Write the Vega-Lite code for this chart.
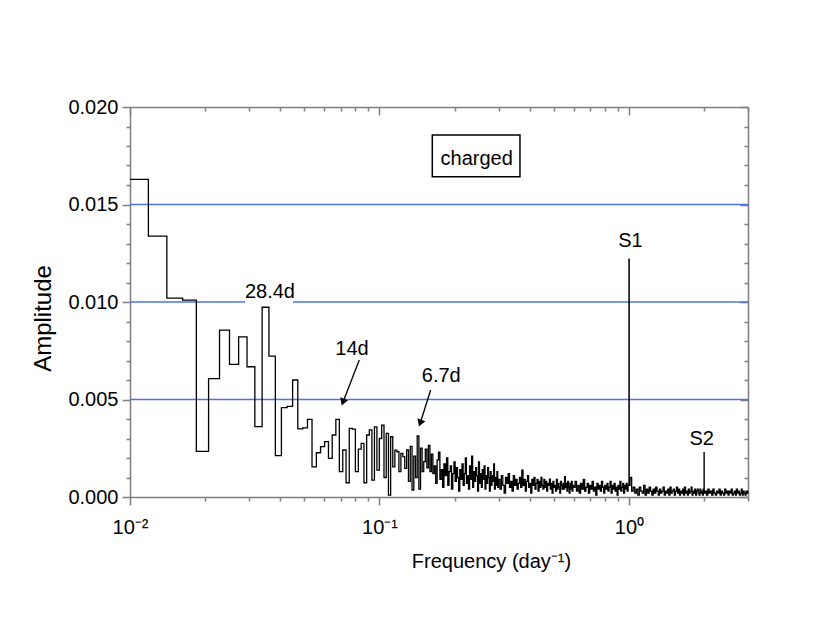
{
  "$schema": "https://vega.github.io/schema/vega-lite/v6.json",
  "autosize": "none",
  "width": 618,
  "height": 390,
  "padding": {"left": 130, "top": 107, "right": 82, "bottom": 126},
  "background": "white",
  "config": {
    "view": {"stroke": null},
    "axis": {
      "domainColor": "#7f7f7f", "tickColor": "#7f7f7f", "domainWidth": 1.5, "tickWidth": 1.5,
      "grid": false,
      "labelFont": "Liberation Sans, Arial, sans-serif", "labelFontSize": 20, "labelColor": "black",
      "titleFont": "Liberation Sans, Arial, sans-serif", "titleFontSize": 20, "titleFontWeight": "normal", "titleColor": "black"
    }
  },
  "datasets": {
    "spec": [
      {"f": 0.01, "a": 0.01629}, {"f": 0.01185, "a": 0.01338}, {"f": 0.01405, "a": 0.0102}, {"f": 0.01625, "a": 0.0101},
      {"f": 0.01845, "a": 0.00234}, {"f": 0.02065, "a": 0.00607}, {"f": 0.02285, "a": 0.00856}, {"f": 0.02505, "a": 0.0068},
      {"f": 0.02725, "a": 0.00821}, {"f": 0.02945, "a": 0.00668}, {"f": 0.03165, "a": 0.00361}, {"f": 0.03385, "a": 0.00973},
      {"f": 0.03605, "a": 0.00722}, {"f": 0.03825, "a": 0.00212}, {"f": 0.04045, "a": 0.00458}, {"f": 0.04265, "a": 0.00465},
      {"f": 0.04485, "a": 0.006}, {"f": 0.04705, "a": 0.00349}, {"f": 0.04925, "a": 0.00355}, {"f": 0.05145, "a": 0.00398},
      {"f": 0.05365, "a": 0.00155}, {"f": 0.05585, "a": 0.00227}, {"f": 0.05805, "a": 0.00258}, {"f": 0.06025, "a": 0.00284},
      {"f": 0.06245, "a": 0.00198}, {"f": 0.06465, "a": 0.00318}, {"f": 0.06685, "a": 0.00398}, {"f": 0.06905, "a": 0.0013},
      {"f": 0.07125, "a": 0.00241}, {"f": 0.07345, "a": 0.00073}, {"f": 0.07565, "a": 0.00352}, {"f": 0.07785, "a": 0.00348},
      {"f": 0.08005, "a": 0.0013}, {"f": 0.08225, "a": 0.00246}, {"f": 0.08445, "a": 0.00275}, {"f": 0.08665, "a": 0.00073},
      {"f": 0.08885, "a": 0.00318}, {"f": 0.09105, "a": 0.00344}, {"f": 0.09325, "a": 0.00087}, {"f": 0.09545, "a": 0.0036},
      {"f": 0.09765, "a": 0.00138}, {"f": 0.09985, "a": 0.003}, {"f": 0.10205, "a": 0.00369}, {"f": 0.10425, "a": 0.001},
      {"f": 0.10645, "a": 0.00326}, {"f": 0.10865, "a": 0.0001}, {"f": 0.11085, "a": 0.00309}, {"f": 0.11305, "a": 0.00155},
      {"f": 0.11525, "a": 0.0024}, {"f": 0.11745, "a": 0.00232}, {"f": 0.11965, "a": 0.0013}, {"f": 0.12185, "a": 0.00224},
      {"f": 0.12405, "a": 0.00207}, {"f": 0.12625, "a": 0.00147}, {"f": 0.12845, "a": 0.00241}, {"f": 0.13065, "a": 0.0008},
      {"f": 0.13285, "a": 0.0026}, {"f": 0.13505, "a": 0.00036}, {"f": 0.13725, "a": 0.0021}, {"f": 0.13945, "a": 0.001},
      {"f": 0.14165, "a": 0.00313}, {"f": 0.14385, "a": 0.0004}, {"f": 0.14605, "a": 0.0025}, {"f": 0.14825, "a": 0.0013},
      {"f": 0.15045, "a": 0.00181}, {"f": 0.15265, "a": 0.00245}, {"f": 0.15485, "a": 0.0015}, {"f": 0.15705, "a": 0.00265},
      {"f": 0.15925, "a": 0.0013},
      {"f": 0.16145, "a": 0.0022}, {"f": 0.16365, "a": 0.0012}, {"f": 0.16585, "a": 0.0016}, {"f": 0.16805, "a": 0.0007},
      {"f": 0.17025, "a": 0.0019}, {"f": 0.17245, "a": 0.0023}, {"f": 0.17465, "a": 0.0009}, {"f": 0.17685, "a": 0.0014},
      {"f": 0.17905, "a": 0.0005}, {"f": 0.18125, "a": 0.0017}, {"f": 0.18345, "a": 0.0011}, {"f": 0.18565, "a": 0.002},
      {"f": 0.18785, "a": 0.0006}, {"f": 0.19005, "a": 0.0013}, {"f": 0.19225, "a": 0.0016}, {"f": 0.19445, "a": 0.0004},
      {"f": 0.19665, "a": 0.0012}, {"f": 0.19885, "a": 0.0018}, {"f": 0.20105, "a": 0.0008}, {"f": 0.20325, "a": 0.0015},
      {"f": 0.20545, "a": 0.001}, {"f": 0.20765, "a": 0.0003}, {"f": 0.20985, "a": 0.0014}, {"f": 0.21205, "a": 0.0009},
      {"f": 0.21425, "a": 0.0017}, {"f": 0.21645, "a": 0.0006}, {"f": 0.21865, "a": 0.0012}, {"f": 0.22085, "a": 0.002},
      {"f": 0.22305, "a": 0.0007}, {"f": 0.22525, "a": 0.0011}, {"f": 0.22745, "a": 0.0004}, {"f": 0.22965, "a": 0.0016},
      {"f": 0.23185, "a": 0.0009}, {"f": 0.23405, "a": 0.0021}, {"f": 0.23625, "a": 0.0005}, {"f": 0.23845, "a": 0.0013},
      {"f": 0.24065, "a": 0.0008}, {"f": 0.24285, "a": 0.0015}, {"f": 0.24505, "a": 0.0011}, {"f": 0.24725, "a": 0.0003},
      {"f": 0.24945, "a": 0.0018}, {"f": 0.25165, "a": 0.0007}, {"f": 0.25385, "a": 0.0012}, {"f": 0.25605, "a": 0.0005},
      {"f": 0.25825, "a": 0.0014}, {"f": 0.26045, "a": 0.0009}, {"f": 0.26265, "a": 0.0016}, {"f": 0.26485, "a": 0.0004},
      {"f": 0.26705, "a": 0.0011}, {"f": 0.26925, "a": 0.0007}, {"f": 0.27145, "a": 0.0015}, {"f": 0.27365, "a": 0.001},
      {"f": 0.27585, "a": 0.0003}, {"f": 0.27805, "a": 0.0013}, {"f": 0.28025, "a": 0.0006}, {"f": 0.28245, "a": 0.0011},
      {"f": 0.28465, "a": 0.0008}, {"f": 0.28685, "a": 0.0017}, {"f": 0.28905, "a": 0.0004}, {"f": 0.29125, "a": 0.001},
      {"f": 0.29345, "a": 0.0006}, {"f": 0.29565, "a": 0.0013}, {"f": 0.29785, "a": 0.0005},
      {"f": 0.300, "a": 0.0009}, {"f": 0.304, "a": 0.0004}, {"f": 0.308, "a": 0.0011}, {"f": 0.312, "a": 0.0006},
      {"f": 0.316, "a": 0.0002}, {"f": 0.320, "a": 0.001}, {"f": 0.324, "a": 0.0007}, {"f": 0.328, "a": 0.0012},
      {"f": 0.332, "a": 0.0005}, {"f": 0.336, "a": 0.0008}, {"f": 0.340, "a": 0.0003}, {"f": 0.344, "a": 0.0011},
      {"f": 0.348, "a": 0.0006}, {"f": 0.352, "a": 0.0009}, {"f": 0.356, "a": 0.0004}, {"f": 0.360, "a": 0.0007},
      {"f": 0.364, "a": 0.001}, {"f": 0.368, "a": 0.0005}, {"f": 0.372, "a": 0.00138}, {"f": 0.376, "a": 0.0006},
      {"f": 0.380, "a": 0.0009}, {"f": 0.384, "a": 0.0003}, {"f": 0.388, "a": 0.0008}, {"f": 0.392, "a": 0.0011},
      {"f": 0.396, "a": 0.0005}, {"f": 0.400, "a": 0.0007}, {"f": 0.404, "a": 0.0002}, {"f": 0.408, "a": 0.0009},
      {"f": 0.412, "a": 0.0006}, {"f": 0.416, "a": 0.001}, {"f": 0.420, "a": 0.0004}, {"f": 0.424, "a": 0.0007},
      {"f": 0.428, "a": 0.0009}, {"f": 0.432, "a": 0.0003}, {"f": 0.436, "a": 0.0008}, {"f": 0.440, "a": 0.0005},
      {"f": 0.444, "a": 0.001}, {"f": 0.448, "a": 0.0006}, {"f": 0.452, "a": 0.0004}, {"f": 0.456, "a": 0.0009},
      {"f": 0.460, "a": 0.0005}, {"f": 0.464, "a": 0.0008}, {"f": 0.468, "a": 0.0003}, {"f": 0.472, "a": 0.0007},
      {"f": 0.476, "a": 0.0006}, {"f": 0.480, "a": 0.00092}, {"f": 0.484, "a": 0.0004}, {"f": 0.488, "a": 0.0007},
      {"f": 0.492, "a": 0.0002}, {"f": 0.496, "a": 0.0008}, {"f": 0.500, "a": 0.0005}, {"f": 0.504, "a": 0.0006},
      {"f": 0.508, "a": 0.0003}, {"f": 0.512, "a": 0.0009}, {"f": 0.516, "a": 0.0004}, {"f": 0.520, "a": 0.0007},
      {"f": 0.524, "a": 0.0005}, {"f": 0.528, "a": 0.0002}, {"f": 0.532, "a": 0.0008}, {"f": 0.536, "a": 0.0006},
      {"f": 0.540, "a": 0.0004}, {"f": 0.544, "a": 0.0007}, {"f": 0.548, "a": 0.0004}, {"f": 0.552, "a": 0.00104},
      {"f": 0.556, "a": 0.0005}, {"f": 0.560, "a": 0.0007}, {"f": 0.564, "a": 0.0003}, {"f": 0.568, "a": 0.0008},
      {"f": 0.572, "a": 0.0005}, {"f": 0.576, "a": 0.0002}, {"f": 0.580, "a": 0.0007}, {"f": 0.584, "a": 0.0004},
      {"f": 0.588, "a": 0.0008}, {"f": 0.592, "a": 0.0003}, {"f": 0.596, "a": 0.0006},
      {"f": 0.600, "a": 0.0005}, {"f": 0.608, "a": 0.0008}, {"f": 0.616, "a": 0.0003}, {"f": 0.624, "a": 0.0006},
      {"f": 0.632, "a": 0.0002}, {"f": 0.640, "a": 0.0007}, {"f": 0.648, "a": 0.0004}, {"f": 0.656, "a": 0.0009},
      {"f": 0.664, "a": 0.0003}, {"f": 0.672, "a": 0.0005}, {"f": 0.680, "a": 0.0007}, {"f": 0.688, "a": 0.0002},
      {"f": 0.696, "a": 0.0006}, {"f": 0.704, "a": 0.0004}, {"f": 0.712, "a": 0.0008}, {"f": 0.720, "a": 0.0003},
      {"f": 0.728, "a": 0.0005}, {"f": 0.736, "a": 0.0001}, {"f": 0.744, "a": 0.0007}, {"f": 0.752, "a": 0.0004},
      {"f": 0.760, "a": 0.0006}, {"f": 0.768, "a": 0.0003}, {"f": 0.776, "a": 0.0008}, {"f": 0.784, "a": 0.0005},
      {"f": 0.792, "a": 0.0002}, {"f": 0.800, "a": 0.0006}, {"f": 0.808, "a": 0.0004}, {"f": 0.816, "a": 0.0007},
      {"f": 0.824, "a": 0.0003}, {"f": 0.832, "a": 0.0005}, {"f": 0.840, "a": 0.0008}, {"f": 0.848, "a": 0.0002},
      {"f": 0.856, "a": 0.0006}, {"f": 0.864, "a": 0.0004}, {"f": 0.872, "a": 0.0007}, {"f": 0.880, "a": 0.0003},
      {"f": 0.888, "a": 0.0005}, {"f": 0.896, "a": 0.0001}, {"f": 0.904, "a": 0.0006}, {"f": 0.912, "a": 0.0004},
      {"f": 0.920, "a": 0.0008}, {"f": 0.928, "a": 0.0003}, {"f": 0.936, "a": 0.0005}, {"f": 0.944, "a": 0.0007},
      {"f": 0.952, "a": 0.0002}, {"f": 0.960, "a": 0.0006}, {"f": 0.968, "a": 0.0004}, {"f": 0.976, "a": 0.0007},
      {"f": 0.984, "a": 0.0003}, {"f": 0.992, "a": 0.0006},
      {"f": 1.0, "a": 0.0122}, {"f": 1.0022, "a": 0.0006},
      {"f": 1.010, "a": 0.001}, {"f": 1.025, "a": 0.0003}, {"f": 1.040, "a": 0.0005}, {"f": 1.055, "a": 0.0002},
      {"f": 1.070, "a": 0.0004}, {"f": 1.085, "a": 0.0001}, {"f": 1.100, "a": 0.0005}, {"f": 1.115, "a": 0.0003},
      {"f": 1.130, "a": 0.0002}, {"f": 1.145, "a": 0.0006}, {"f": 1.160, "a": 0.0001}, {"f": 1.175, "a": 0.0004},
      {"f": 1.190, "a": 0.0002}, {"f": 1.205, "a": 0.0005}, {"f": 1.220, "a": 0.0003}, {"f": 1.235, "a": 0.0001},
      {"f": 1.250, "a": 0.0004}, {"f": 1.265, "a": 0.0002}, {"f": 1.280, "a": 0.0005}, {"f": 1.295, "a": 0.0003},
      {"f": 1.310, "a": 0.0001}, {"f": 1.325, "a": 0.0004}, {"f": 1.340, "a": 0.0002}, {"f": 1.355, "a": 0.0003},
      {"f": 1.370, "a": 0.0005}, {"f": 1.385, "a": 0.0001}, {"f": 1.400, "a": 0.0003}, {"f": 1.415, "a": 0.0002},
      {"f": 1.430, "a": 0.0004}, {"f": 1.445, "a": 0.0001}, {"f": 1.460, "a": 0.0005}, {"f": 1.475, "a": 0.0002},
      {"f": 1.490, "a": 0.0003}, {"f": 1.505, "a": 0.0004}, {"f": 1.520, "a": 0.0001}, {"f": 1.535, "a": 0.0003},
      {"f": 1.550, "a": 0.0005}, {"f": 1.565, "a": 0.0002}, {"f": 1.580, "a": 0.0004}, {"f": 1.595, "a": 0.0001},
      {"f": 1.610, "a": 0.0003}, {"f": 1.625, "a": 0.0002}, {"f": 1.640, "a": 0.0004}, {"f": 1.655, "a": 0.0001},
      {"f": 1.670, "a": 0.0005}, {"f": 1.685, "a": 0.0002}, {"f": 1.700, "a": 0.0003}, {"f": 1.715, "a": 0.0001},
      {"f": 1.730, "a": 0.0004}, {"f": 1.745, "a": 0.0002}, {"f": 1.760, "a": 0.0003}, {"f": 1.775, "a": 0.0005},
      {"f": 1.790, "a": 0.0001}, {"f": 1.805, "a": 0.0003}, {"f": 1.820, "a": 0.0002}, {"f": 1.835, "a": 0.0004},
      {"f": 1.850, "a": 0.0001}, {"f": 1.865, "a": 0.0003}, {"f": 1.880, "a": 0.0004}, {"f": 1.895, "a": 0.0002},
      {"f": 1.910, "a": 0.0001}, {"f": 1.925, "a": 0.0004}, {"f": 1.940, "a": 0.0002}, {"f": 1.955, "a": 0.0003},
      {"f": 1.970, "a": 0.0001}, {"f": 1.985, "a": 0.0004},
      {"f": 2.0, "a": 0.00227}, {"f": 2.0022, "a": 0.0002},
      {"f": 2.020, "a": 0.0003}, {"f": 2.045, "a": 0.0001}, {"f": 2.070, "a": 0.0004}, {"f": 2.095, "a": 0.0002},
      {"f": 2.120, "a": 0.0003}, {"f": 2.145, "a": 0.0001}, {"f": 2.170, "a": 0.0004}, {"f": 2.195, "a": 0.0002},
      {"f": 2.220, "a": 0.0001}, {"f": 2.245, "a": 0.0003}, {"f": 2.270, "a": 0.0002}, {"f": 2.295, "a": 0.0004},
      {"f": 2.320, "a": 0.0001}, {"f": 2.345, "a": 0.0003}, {"f": 2.370, "a": 0.0002}, {"f": 2.395, "a": 0.0001},
      {"f": 2.420, "a": 0.0004}, {"f": 2.445, "a": 0.0002}, {"f": 2.470, "a": 0.0003}, {"f": 2.495, "a": 0.0001},
      {"f": 2.520, "a": 0.0003}, {"f": 2.545, "a": 0.0002}, {"f": 2.570, "a": 0.0004}, {"f": 2.595, "a": 0.0001},
      {"f": 2.620, "a": 0.0002}, {"f": 2.645, "a": 0.0003}, {"f": 2.670, "a": 0.0001}, {"f": 2.695, "a": 0.0004},
      {"f": 2.720, "a": 0.0002}, {"f": 2.745, "a": 0.0003}, {"f": 2.770, "a": 0.0001}, {"f": 2.795, "a": 0.0002},
      {"f": 2.820, "a": 0.0004}, {"f": 2.845, "a": 0.0001}, {"f": 2.870, "a": 0.0003}, {"f": 2.895, "a": 0.0002},
      {"f": 2.920, "a": 0.0001}, {"f": 2.945, "a": 0.0003}, {"f": 2.970, "a": 0.0002}, {"f": 2.995, "a": 0.0003},
      {"f": 3.0, "a": 0.0003}
    ],
    "hlines": [{"a": 0.005}, {"a": 0.01}, {"a": 0.015}],
    "gap": [{"f": 0.0289, "f2": 0.045, "a": 0.00985, "a2": 0.0102}],
    "arrows": [
      {"f": 0.08299, "a": 0.007026, "f2": 0.07137, "a2": 0.004862},
      {"f": 0.1604, "a": 0.005487, "f2": 0.1456, "a2": 0.003785}
    ],
    "heads": [{"f": 0.07137, "a": 0.004862}, {"f": 0.1456, "a": 0.003785}],
    "labels": [
      {"f": 0.03639, "a": 0.010205, "t": "28.4d"},
      {"f": 0.07759, "a": 0.007282, "t": "14d"},
      {"f": 0.1769, "a": 0.005913, "t": "6.7d"},
      {"f": 1.014, "a": 0.01284, "t": "S1"},
      {"f": 1.956, "a": 0.002667, "t": "S2"},
      {"f": 0.2453, "a": 0.017026, "t": "charged"}
    ],
    "box": [{"f": 0.1628, "f2": 0.3657, "a": 0.018564, "a2": 0.016426}]
  },
  "resolve": {"axis": {"x": "independent", "y": "independent"}},
  "layer": [
    {
      "data": {"name": "hlines"},
      "mark": {"type": "rule", "color": "#4f6ff2", "strokeWidth": 1.4},
      "encoding": {
        "y": {"field": "a", "type": "quantitative", "scale": {"domain": [0, 0.02], "nice": false, "zero": false}, "axis": null}
      }
    },
    {
      "data": {"name": "gap"},
      "mark": {"type": "rect", "fill": "white"},
      "encoding": {
        "x": {"field": "f", "type": "quantitative", "scale": {"type": "log", "domain": [0.01, 3], "nice": false},
          "axis": {"orient": "top", "title": null, "labels": false,
            "values": [0.01,0.02,0.03,0.04,0.05,0.06,0.07,0.08,0.09,0.1,0.2,0.3,0.4,0.5,0.6,0.7,0.8,0.9,1,2,3],
            "tickSize": {"condition": {"test": "datum.value==0.01||datum.value==0.1||datum.value==1", "value": -8}, "value": -4}}},
        "x2": {"field": "f2"},
        "y": {"field": "a", "type": "quantitative",
          "axis": {"orient": "right", "title": null, "labels": false,
            "values": [0,0.001,0.002,0.003,0.004,0.005,0.006,0.007,0.008,0.009,0.01,0.011,0.012,0.013,0.014,0.015,0.016,0.017,0.018,0.019,0.02],
            "tickSize": {"condition": {"test": "indexof([0,0.005,0.01,0.015,0.02], datum.value) >= 0", "value": -8}, "value": -4}}},
        "y2": {"field": "a2"}
      }
    },
    {
      "data": {"name": "spec"},
      "mark": {"type": "line", "interpolate": "step-after", "color": "black", "strokeWidth": 1.3},
      "encoding": {
        "x": {"field": "f", "type": "quantitative",
          "axis": {"orient": "bottom", "title": "Frequency (day⁻¹)",
            "values": [0.01,0.02,0.03,0.04,0.05,0.06,0.07,0.08,0.09,0.1,0.2,0.3,0.4,0.5,0.6,0.7,0.8,0.9,1,2,3],
            "labelExpr": "datum.value==0.01?'10⁻²':datum.value==0.1?'10⁻¹':datum.value==1?'10⁰':''",
            "labelOverlap": false, "labelFlush": false, "labelPadding": 12,
            "tickSize": {"condition": {"test": "datum.value==0.01||datum.value==0.1||datum.value==1", "value": 8}, "value": 4},
            "titleX": 361, "titleY": 70, "titleAlign": "center", "titleBaseline": "alphabetic"}},
        "y": {"field": "a", "type": "quantitative",
          "axis": {"orient": "left", "title": "Amplitude", "titleFontSize": 24,
            "values": [0,0.001,0.002,0.003,0.004,0.005,0.006,0.007,0.008,0.009,0.01,0.011,0.012,0.013,0.014,0.015,0.016,0.017,0.018,0.019,0.02],
            "labelExpr": "indexof([0,0.005,0.01,0.015,0.02], datum.value) >= 0 ? format(datum.value, '.3f') : ''",
            "labelOverlap": false, "labelFlush": false, "labelPadding": 4,
            "tickSize": {"condition": {"test": "indexof([0,0.005,0.01,0.015,0.02], datum.value) >= 0", "value": 8}, "value": 4},
            "titleX": -87, "titleY": 211, "titleAngle": -90, "titleAlign": "center", "titleBaseline": "middle"}}
      }
    },
    {
      "data": {"name": "arrows"},
      "mark": {"type": "rule", "color": "black", "strokeWidth": 1.3},
      "encoding": {
        "x": {"field": "f", "type": "quantitative", "axis": null},
        "x2": {"field": "f2"},
        "y": {"field": "a", "type": "quantitative", "axis": null},
        "y2": {"field": "a2"}
      }
    },
    {
      "data": {"name": "heads"},
      "mark": {"type": "point", "shape": "triangle-down", "filled": true, "color": "black", "size": 70, "angle": 20, "opacity": 1},
      "encoding": {
        "x": {"field": "f", "type": "quantitative", "axis": null},
        "y": {"field": "a", "type": "quantitative", "axis": null}
      }
    },
    {
      "data": {"name": "box"},
      "mark": {"type": "rect", "fill": "white", "stroke": "black", "strokeWidth": 1.5},
      "encoding": {
        "x": {"field": "f", "type": "quantitative", "axis": null},
        "x2": {"field": "f2"},
        "y": {"field": "a", "type": "quantitative", "axis": null},
        "y2": {"field": "a2"}
      }
    },
    {
      "data": {"name": "labels"},
      "mark": {"type": "text", "font": "Liberation Sans, Arial, sans-serif", "fontSize": 20, "align": "center", "baseline": "alphabetic", "color": "black"},
      "encoding": {
        "x": {"field": "f", "type": "quantitative", "axis": null},
        "y": {"field": "a", "type": "quantitative", "axis": null},
        "text": {"field": "t"}
      }
    }
  ]
}
